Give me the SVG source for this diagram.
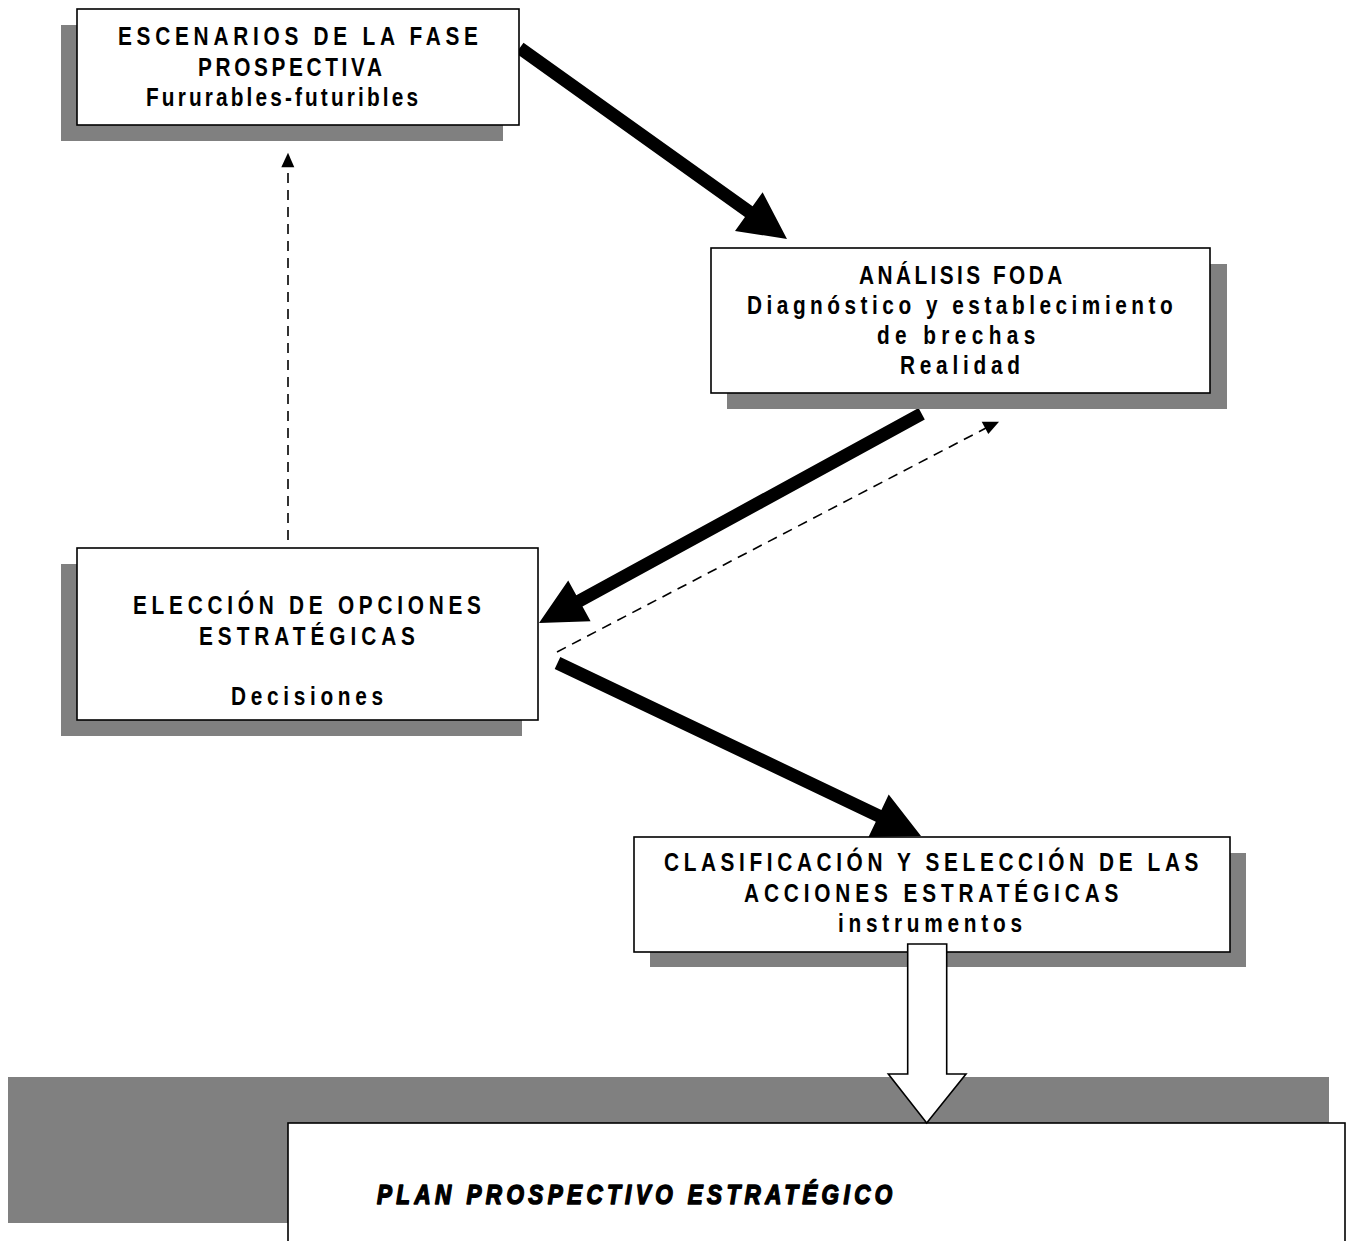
<svg xmlns="http://www.w3.org/2000/svg" width="1348" height="1241" viewBox="0 0 1348 1241">
  <style>
    .shadow { fill: #808080; }
    .box { fill: #ffffff; stroke: #000000; stroke-width: 1.6; }
    .lbl { font-family: "Liberation Sans Narrow", "Liberation Sans", Arial, sans-serif; font-size: 26px; font-weight: bold; fill: #000000; }
    .title { font-family: "Liberation Sans Narrow", "Liberation Sans", Arial, sans-serif; font-size: 28px; font-weight: 900; font-style: italic; fill: #000000; stroke: #000000; stroke-width: 1.6; stroke-linejoin: round; }
    .thick { fill: #000000; }
    .dash { fill: none; stroke: #000000; stroke-width: 1.6; stroke-dasharray: 10 7; }
    .head { fill: #000000; }
    .block { fill: #ffffff; stroke: #000000; stroke-width: 1.6; stroke-linejoin: miter; }
  </style>

  <!-- background -->
  <rect x="0" y="0" width="1348" height="1241" fill="#ffffff"/>

  <!-- connectors drawn beneath the boxes -->
  <g id="connectors">
    <!-- escenarios -> analisis FODA -->
    <polygon class="thick" points="523.5,42.7 752.6,206.3 762.6,192.3 787,239 735,230.9 745,216.9 515.9,53.3"/>
    <!-- analisis FODA -> eleccion de opciones -->
    <polygon class="thick" points="918.6,408.1 924.8,419.5 582.5,606.6 590.6,621.3 539,623 568.2,580.5 576.3,595.2"/>
    <!-- eleccion de opciones -> clasificacion -->
    <polygon class="thick" points="560.3,657.1 881.4,809.9 888.7,794.6 921,836 868.5,837 875.8,821.7 554.7,668.9"/>
    <!-- feedback: eleccion -> analisis FODA (dashed) -->
    <line class="dash" x1="557" y1="652" x2="986" y2="428"/>
    <polygon class="head" points="999,421.7 981.7,421.7 988.3,434"/>
    <!-- feedback: eleccion -> escenarios (dashed) -->
    <line class="dash" x1="288" y1="540" x2="288" y2="167"/>
    <polygon class="head" points="288,152.7 281.3,167.3 294.3,167.3"/>
  </g>

  <!-- labels use a horizontally condensed face: translate to the start point, then squeeze -->
  <g id="node-escenarios">
    <rect class="shadow" x="61" y="25" width="442" height="116"/>
    <rect class="box" x="77" y="9" width="442" height="116"/>
    <text class="lbl" transform="translate(118,45) scale(0.8,1)" textLength="450" lengthAdjust="spacing">ESCENARIOS DE LA FASE</text>
    <text class="lbl" transform="translate(198,76) scale(0.8,1)" textLength="230" lengthAdjust="spacing">PROSPECTIVA</text>
    <text class="lbl" transform="translate(146,106) scale(0.8,1)" textLength="340" lengthAdjust="spacing">Fururables-futuribles</text>
  </g>

  <g id="node-foda">
    <rect class="shadow" x="727" y="264" width="500" height="145"/>
    <rect class="box" x="711" y="248" width="499" height="145"/>
    <text class="lbl" transform="translate(859,284) scale(0.8,1)" textLength="254" lengthAdjust="spacing">ANÁLISIS FODA</text>
    <text class="lbl" transform="translate(747,314) scale(0.8,1)" textLength="532" lengthAdjust="spacing">Diagnóstico y establecimiento</text>
    <text class="lbl" transform="translate(877,344) scale(0.8,1)" textLength="198" lengthAdjust="spacing">de brechas</text>
    <text class="lbl" transform="translate(900,374) scale(0.8,1)" textLength="150" lengthAdjust="spacing">Realidad</text>
  </g>

  <g id="node-eleccion">
    <rect class="shadow" x="61" y="564" width="461" height="172"/>
    <rect class="box" x="77" y="548" width="461" height="172"/>
    <text class="lbl" transform="translate(133,614) scale(0.8,1)" textLength="435" lengthAdjust="spacing">ELECCIÓN DE OPCIONES</text>
    <text class="lbl" transform="translate(199,645) scale(0.8,1)" textLength="270" lengthAdjust="spacing">ESTRATÉGICAS</text>
    <text class="lbl" transform="translate(231,705) scale(0.8,1)" textLength="190" lengthAdjust="spacing">Decisiones</text>
  </g>

  <g id="node-clasificacion">
    <rect class="shadow" x="650" y="853" width="596" height="114"/>
    <rect class="box" x="634" y="837" width="596" height="115"/>
    <text class="lbl" transform="translate(664,871) scale(0.8,1)" textLength="668" lengthAdjust="spacing">CLASIFICACIÓN Y SELECCIÓN DE LAS</text>
    <text class="lbl" transform="translate(744,902) scale(0.8,1)" textLength="468" lengthAdjust="spacing">ACCIONES ESTRATÉGICAS</text>
    <text class="lbl" transform="translate(838,932) scale(0.8,1)" textLength="230" lengthAdjust="spacing">instrumentos</text>
  </g>

  <g id="node-plan">
    <rect class="shadow" x="8" y="1077" width="1321" height="146"/>
    <rect class="box" x="288" y="1123" width="1057" height="130"/>
    <text class="title" transform="translate(377,1204) scale(0.8,1)" textLength="644" lengthAdjust="spacing">PLAN PROSPECTIVO ESTRATÉGICO</text>
  </g>

  <!-- hollow block arrow from clasificacion down to the plan -->
  <g id="block-arrow">
    <polygon class="block" points="907.7,944 946.7,944 946.7,1074 966,1074 926.7,1123 888.3,1074 907.7,1074"/>
  </g>
</svg>
